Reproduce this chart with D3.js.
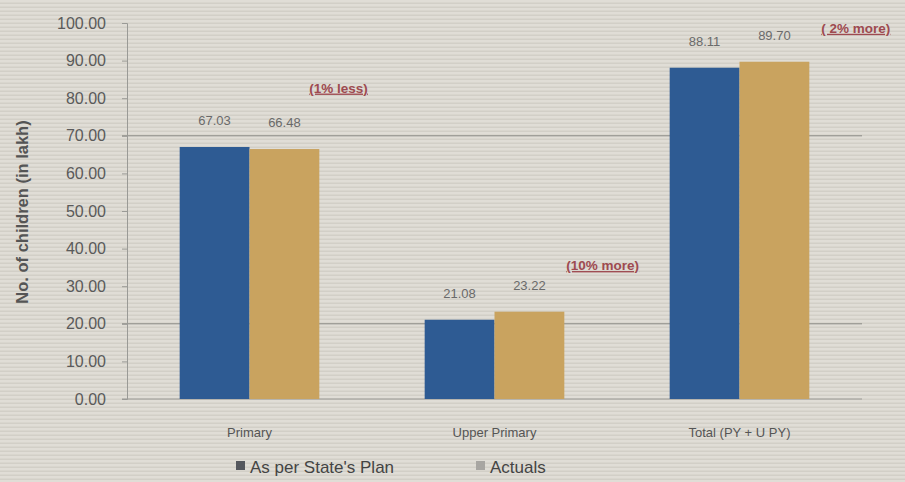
<!DOCTYPE html>
<html>
<head>
<meta charset="utf-8">
<script src="https://cdn.jsdelivr.net/npm/d3@7"></script>
<style>
  html, body { margin: 0; padding: 0; background: #dcd9d1; }
  svg { display: block; }
</style>
</head>
<body>
<svg id="chart" width="905" height="482"></svg>
<script>
// ---- data ----
const categories = ["Primary", "Upper Primary", "Total (PY + U PY)"];
const seriesNames = ["As per State's Plan", "Actuals"];
const planValues = [67.03, 21.08, 88.11];
const actualValues = [66.48, 23.22, 89.70];
const annotations = ["(1% less)", "(10%  more)", "( 2% more)"];
const annotationLevels = [81.5, 34.3, 97.4];
const yTicks = [0, 10, 20, 30, 40, 50, 60, 70, 80, 90, 100];
const highlightedGrid = [70, 20];

const W = 905, H = 482;
const margin = { left: 127, right: 43, top: 23, bottom: 83 };
const svg = d3.select("#chart");

// striped background
const defs = svg.append("defs");
const pat = defs.append("pattern").attr("id", "stripes")
  .attr("patternUnits", "userSpaceOnUse").attr("width", 8).attr("height", 4);
pat.append("rect").attr("width", 8).attr("height", 4).attr("fill", "#e0ddd6");
pat.append("rect").attr("y", 2.5).attr("width", 8).attr("height", 1.5).attr("fill", "#d2cfc7");
svg.append("rect").attr("width", W).attr("height", H).attr("fill", "url(#stripes)");

const x0 = d3.scaleBand().domain(categories)
  .range([margin.left, W - margin.right]).paddingInner(0.43).paddingOuter(0.215);
const x1 = d3.scaleBand().domain(seriesNames).range([0, x0.bandwidth()]);
const y = d3.scaleLinear().domain([0, 100]).range([H - margin.bottom, margin.top]);
const colors = d3.scaleOrdinal().domain(seriesNames).range(["#2e5b93", "#c9a35f"]);
const legendColors = ["#55585e", "#a8a6a2"];

const font = "'Liberation Sans Narrow', 'Liberation Sans', Arial, sans-serif";

// grid lines
svg.append("g").selectAll("line").data(highlightedGrid).join("line")
  .attr("x1", margin.left - 5).attr("x2", W - margin.right)
  .attr("y1", d => y(d)).attr("y2", d => y(d))
  .attr("stroke", "#8a8a86").attr("stroke-width", 1);

// y axis
const yAxis = d3.axisLeft(y).tickValues(yTicks).tickFormat(d3.format(".2f")).tickSize(5).tickPadding(16);
const gy = svg.append("g").attr("transform", `translate(${margin.left},0)`).call(yAxis);
gy.select(".domain").attr("stroke", "#9a9a96");
gy.selectAll(".tick line").attr("stroke", "#9a9a96");
gy.selectAll(".tick text").attr("fill", "#5a5a5a").attr("font-size", 16).attr("font-family", font);

// baseline
svg.append("line").attr("x1", margin.left - 5).attr("x2", W - margin.right)
  .attr("y1", y(0)).attr("y2", y(0)).attr("stroke", "#9a9a96");

// bars
const rows = categories.map((c, i) => ({ cat: c, vals: [
  { s: seriesNames[0], v: planValues[i] },
  { s: seriesNames[1], v: actualValues[i] }
]}));
const groups = svg.append("g").selectAll("g").data(rows).join("g")
  .attr("transform", d => `translate(${x0(d.cat)},0)`);
groups.selectAll("rect").data(d => d.vals).join("rect")
  .attr("x", d => x1(d.s)).attr("width", x1.bandwidth())
  .attr("y", d => y(d.v)).attr("height", d => y(0) - y(d.v))
  .attr("fill", d => colors(d.s));
groups.selectAll("text.val").data(d => d.vals).join("text")
  .attr("class", "val")
  .attr("x", d => x1(d.s) + x1.bandwidth() / 2)
  .attr("y", d => y(d.v) - 22)
  .attr("text-anchor", "middle").attr("font-size", 13).attr("fill", "#6a6a6a")
  .attr("font-family", font).text(d => d.v.toFixed(2));

// annotations
const annDx = [-10, 2, 12];
groups.append("text")
  .attr("x", (d, i) => x0.bandwidth() + annDx[i])
  .attr("y", (d, i) => y(annotationLevels[i]))
  .attr("font-size", 13.5).attr("font-weight", "bold").attr("fill", "#9e4a50")
  .attr("text-decoration", "underline").attr("font-family", font)
  .text((d, i) => annotations[i]);

// x labels
svg.append("g").selectAll("text").data(categories).join("text")
  .attr("x", d => x0(d) + x0.bandwidth() / 2).attr("y", y(0) + 38)
  .attr("text-anchor", "middle").attr("font-size", 13).attr("fill", "#555")
  .attr("font-family", font).text(d => d);

// y title
svg.append("text").attr("transform", `translate(28,${y(50) + 1}) rotate(-90)`)
  .attr("text-anchor", "middle").attr("font-size", 16.5).attr("font-weight", "bold")
  .attr("fill", "#555").attr("font-family", "'Liberation Sans', Arial, sans-serif")
  .text("No. of children (in lakh)");

// legend
const legX = [236, 476];
const leg = svg.append("g").selectAll("g").data(seriesNames).join("g")
  .attr("transform", (d, i) => `translate(${legX[i]},467)`);
leg.append("rect").attr("x", 0).attr("y", -6).attr("width", 9).attr("height", 9)
  .attr("fill", (d, i) => legendColors[i]);
leg.append("text").attr("x", 14).attr("y", 0).attr("dy", "0.35em")
  .attr("font-size", 17).attr("fill", "#444")
  .attr("font-family", "'Liberation Sans', Arial, sans-serif").text(d => d);
</script>
</body>
</html>
